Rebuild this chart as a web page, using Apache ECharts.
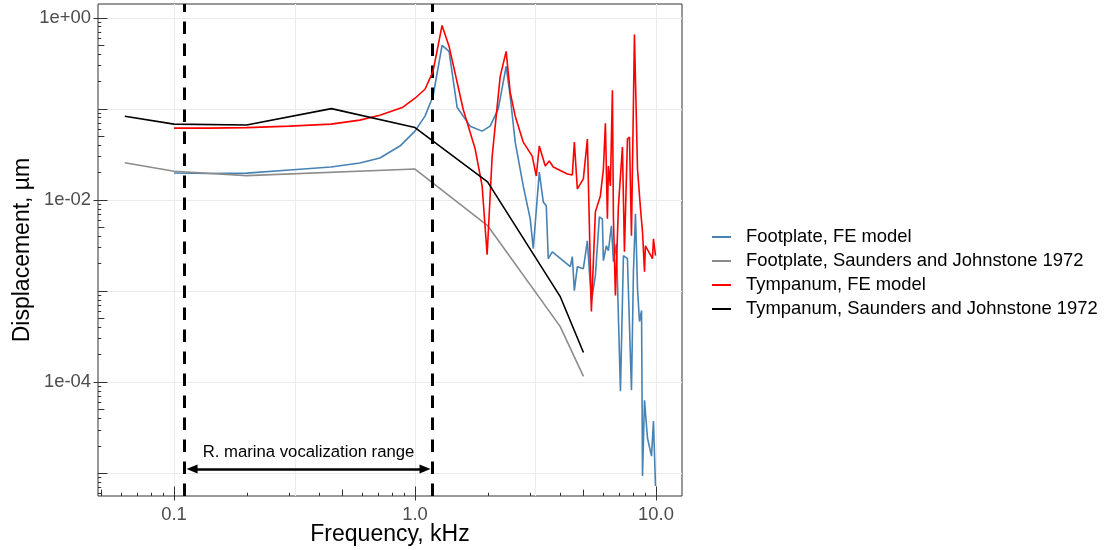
<!DOCTYPE html>
<html>
<head>
<meta charset="utf-8">
<script src="https://cdn.jsdelivr.net/npm/echarts@6/dist/echarts.min.js"></script>
<style>
html,body{margin:0;padding:0;background:#fff;}
#chart{width:1112px;height:550px;}
</style>
</head>
<body>
<div id="chart"></div>
<script>
// ---------------- data (frequency in kHz, displacement in µm) ----------------
const footplateFE_freq = [0.1,0.1405,0.2,0.302,0.448,0.59,0.715,0.866,1.0,1.10,1.188,1.295,1.385,1.495,1.693,1.899,2.05,2.214,2.389,2.483,2.605,2.812,3.007,3.095,3.279,3.406,3.505,3.573,3.713,4.41,4.496,4.583,4.717,4.995,5.191,5.393,5.603,5.821,5.99,6.049,6.225,6.346,6.531,6.658,6.85,7.12,7.326,7.467,7.612,7.91,8.062,8.22,8.38,8.54,8.71,8.79,8.96,9.22,9.58,9.76,9.95];
const footplateFE_disp = [0.01964,0.0194,0.0196,0.0212,0.02285,0.0253,0.0287,0.0388,0.0566,0.0826,0.1367,0.494,0.4246,0.1036,0.0642,0.0566,0.0642,0.0985,0.291,0.1367,0.0429,0.01416,0.00617,0.0029,0.0201,0.00946,0.00856,0.00225,0.00268,0.00184,0.00237,0.001005,0.00184,0.00175,0.00354,0.000762,0.001466,0.00648,0.00617,0.00214,0.00312,0.00275,0.00517,0.00209,0.00328,0.0000789,0.00243,0.00255,0.00225,0.0000809,0.001663,0.007,0.001057,0.00046,0.000607,0.00000927,0.0000629,0.0000241,0.0000153,0.0000371,0.0000072];

const footplateSJ_freq = [0.0625,0.1,0.2,1.0,2.0,4.0,5.0];
const footplateSJ_disp = [0.0255,0.0205,0.0184,0.0217,0.0052,0.000407,0.000115];

const tympanumFE_freq = [0.1,0.1405,0.2,0.302,0.448,0.59,0.715,0.891,1.0,1.10,1.188,1.295,1.385,1.584,1.777,1.899,1.992,2.09,2.257,2.389,2.483,2.605,2.812,3.065,3.185,3.279,3.471,3.607,3.748,4.286,4.496,4.583,4.717,4.995,5.191,5.393,5.603,5.877,6.049,6.166,6.285,6.346,6.469,6.594,6.658,6.786,6.984,7.256,7.396,7.612,7.76,7.91,8.138,8.38,8.624,8.79,8.96,9.04,9.67,9.76,9.95];
const tympanumFE_disp = [0.0610,0.0610,0.0618,0.0642,0.0675,0.0747,0.0847,0.1036,0.130,0.163,0.2565,0.818,0.4817,0.0985,0.036,0.01416,0.00249,0.0301,0.226,0.4246,0.151,0.0826,0.0429,0.0301,0.0182,0.0388,0.02344,0.02658,0.02285,0.01915,0.0187,0.0429,0.01312,0.0169,0.04626,0.000592,0.00735,0.011,0.0217,0.0692,0.00617,0.02344,0.01416,0.159,0.00617,0.000886,0.00856,0.0378,0.00268,0.04626,0.0487,0.00402,0.652,0.0217,0.00793,0.00444,0.00162,0.00312,0.00225,0.00372,0.00243];

const tympanumSJ_freq = [0.0625,0.1,0.2,0.45,1.0,2.0,4.0,5.0];
const tympanumSJ_disp = [0.0826,0.0675,0.066,0.1,0.062,0.0157,0.00087,0.00021];

const seriesNames = ['Footplate, FE model','Footplate, Saunders and Johnstone 1972','Tympanum, FE model','Tympanum, Saunders and Johnstone 1972'];
const seriesColors = ['#4682B4','#8c8c8c','#FF0000','#000000'];

// vocalization range markers
const vocalRange = [0.11, 1.18];
const arrowEnds = [0.1188, 1.1002];
const arrowLevel = 1.107e-5;
const annotationText = 'R. marina vocalization range';

// axes: breaks, minor breaks, log ticks
const X_MIN = 0.04837, X_MAX = 12.82;
const Y_MIN = 5.59e-6, Y_MAX = 1.407;
const xBreaks = [0.1, 1, 10];
const xMinorBreaks = [0.3162, 3.162];
const yBreaks = [1e-4, 1e-2, 1];
const yMinorBreaks = [1e-5, 1e-3, 1e-1];
const xLogTicks = [0.05,0.06,0.07,0.08,0.09,0.1,0.2,0.3,0.4,0.5,0.6,0.7,0.8,0.9,1,2,3,4,5,6,7,8,9,10];
const yLogTicks = [6e-6,7e-6,8e-6,9e-6,
  1e-5,2e-5,3e-5,4e-5,5e-5,6e-5,7e-5,8e-5,9e-5,
  1e-4,2e-4,3e-4,4e-4,5e-4,6e-4,7e-4,8e-4,9e-4,
  1e-3,2e-3,3e-3,4e-3,5e-3,6e-3,7e-3,8e-3,9e-3,
  1e-2,2e-2,3e-2,4e-2,5e-2,6e-2,7e-2,8e-2,9e-2,
  0.1,0.2,0.3,0.4,0.5,0.6,0.7,0.8,0.9,1];

// ---------------- helpers ----------------
const FONT = 'Liberation Sans, Arial, Helvetica, sans-serif';
function zip(a, b) { return a.map((v, i) => [v, b[i]]); }
function mant(v) { const e = Math.floor(Math.log10(v) + 1e-9); return Math.round(v / Math.pow(10, e)); }
function isIn(list, v) { return list.some(b => Math.abs(Math.log10(b) - Math.log10(v)) < 1e-6); }
function expOf(v) { const l = Math.log10(v); const e = Math.round(l); return Math.abs(l - e) < 1e-6 ? e : null; }

const TICK_COLOR = '#333333';
const LEN = {1: 9.5, 5: 6.4};
function tickLen(v) { const m = mant(v); return LEN[m] || 3.2; }

const chart = echarts.init(document.getElementById('chart'), null, {renderer: 'canvas'});

const dataSeries = [
  zip(footplateFE_freq, footplateFE_disp),
  zip(footplateSJ_freq, footplateSJ_disp),
  zip(tympanumFE_freq, tympanumFE_disp),
  zip(tympanumSJ_freq, tympanumSJ_disp)
].map((d, i) => ({
  type: 'line', name: seriesNames[i], data: d, symbol: 'none', z: 3 + i,
  lineStyle: {width: 1.6, color: seriesColors[i]}, itemStyle: {color: seriesColors[i]},
  emphasis: {disabled: true}, silent: true
}));

const option = {
  animation: false,
  backgroundColor: '#ffffff',
  textStyle: {fontFamily: FONT},
  grid: {left: 98, top: 4, width: 584, height: 492, show: true, borderColor: '#333333', borderWidth: 1, backgroundColor: 'transparent', containLabel: false, outerBoundsMode: 'none'},
  legend: {
    orient: 'vertical', left: 712, top: 228, padding: 0, itemWidth: 19, itemHeight: 2, itemGap: 6,
    icon: 'rect', data: seriesNames, selectedMode: false,
    textStyle: {fontSize: 18.4, color: '#000', fontFamily: FONT, padding: [0, 0, 0, 10]}
  },
  xAxis: {
    type: 'log', logBase: 10, min: X_MIN, max: X_MAX,
    axisLine: {show: false}, axisTick: {show: false}, splitLine: {show: false},
    axisLabel: {
      color: '#4d4d4d', fontSize: 18.4, fontFamily: FONT, margin: 10,
      formatter: v => { const e = expOf(v); return (e !== null && isIn(xBreaks, v)) ? Math.pow(10, e).toFixed(1) : ''; }
    },
    name: 'Frequency, kHz', nameLocation: 'middle', nameGap: 27, nameMoveOverlap: false,
    nameTextStyle: {fontSize: 23, color: '#000', fontFamily: FONT}
  },
  yAxis: {
    type: 'log', logBase: 10, min: Y_MIN, max: Y_MAX,
    axisLine: {show: false}, axisTick: {show: false}, splitLine: {show: false},
    axisLabel: {
      color: '#4d4d4d', fontSize: 18.4, fontFamily: FONT, margin: 7,
      formatter: v => {
        const e = expOf(v);
        if (e === null || !isIn(yBreaks, v)) return '';
        const a = Math.abs(e);
        return '1e' + (e >= 0 ? '+' : '-') + (a < 10 ? '0' : '') + a;
      }
    },
    name: 'Displacement, µm', nameLocation: 'middle', nameGap: 64, nameRotate: 90, nameMoveOverlap: false,
    nameTextStyle: {fontSize: 23, color: '#000', fontFamily: FONT}
  },
  series: [
    {
      type: 'custom', name: '_gridx', silent: true, z: 1,
      data: xBreaks.concat(xMinorBreaks).map(f => [f, Y_MIN]),
      renderItem: (params, api) => {
        const p = api.coord([api.value(0), api.value(1)]);
        const cs = params.coordSys;
        const x = Math.round(p[0]) + 0.5;
        return {type: 'line', shape: {x1: x, y1: cs.y, x2: x, y2: cs.y + cs.height}, style: {stroke: '#ebebeb', lineWidth: 1}};
      }
    },
    {
      type: 'custom', name: '_gridy', silent: true, z: 1,
      data: yBreaks.concat(yMinorBreaks).map(v => [X_MIN, v]),
      renderItem: (params, api) => {
        const p = api.coord([api.value(0), api.value(1)]);
        const cs = params.coordSys;
        const y = Math.round(p[1]) + 0.5;
        return {type: 'line', shape: {x1: cs.x, y1: y, x2: cs.x + cs.width, y2: y}, style: {stroke: '#ebebeb', lineWidth: 1}};
      }
    },
    {
      type: 'custom', name: '_ticksx', silent: true, z: 10, clip: false,
      data: xLogTicks.map(f => [f, Y_MIN]),
      renderItem: (params, api) => {
        const f = api.value(0);
        const p = api.coord([f, api.value(1)]);
        const x = Math.round(p[0]) + 0.5;
        const len = tickLen(f);
        const ch = [{type: 'line', shape: {x1: x, y1: p[1], x2: x, y2: p[1] - len}, style: {stroke: TICK_COLOR, lineWidth: 1}}];
        if (isIn(xBreaks, f)) ch.push({type: 'line', shape: {x1: x, y1: p[1], x2: x, y2: p[1] + 4.5}, style: {stroke: TICK_COLOR, lineWidth: 1}});
        return {type: 'group', children: ch};
      }
    },
    {
      type: 'custom', name: '_ticksy', silent: true, z: 10, clip: false,
      data: yLogTicks.map(v => [X_MIN, v]),
      renderItem: (params, api) => {
        const v = api.value(1);
        const p = api.coord([api.value(0), v]);
        const y = Math.round(p[1]) + 0.5;
        const len = tickLen(v);
        const ch = [{type: 'line', shape: {x1: p[0], y1: y, x2: p[0] + len, y2: y}, style: {stroke: TICK_COLOR, lineWidth: 1}}];
        if (isIn(yBreaks, v)) ch.push({type: 'line', shape: {x1: p[0], y1: y, x2: p[0] - 4.5, y2: y}, style: {stroke: TICK_COLOR, lineWidth: 1}});
        return {type: 'group', children: ch};
      }
    }
  ].concat(dataSeries).concat([
    {
      type: 'line', name: '_dash', data: [], silent: true, z: 8,
      markLine: {
        silent: true, animation: false, symbol: 'none',
        label: {show: false},
        lineStyle: {color: '#000', width: 3, type: [12.5, 9.5]},
        emphasis: {disabled: true},
        data: vocalRange.map(f => ({xAxis: f}))
      }
    },
    {
      type: 'line', name: '_arrow', data: [], silent: true, z: 8,
      markLine: {
        silent: true, animation: false, symbol: ['triangle', 'triangle'], symbolSize: [9, 11],
        lineStyle: {color: '#000', width: 2.6, type: 'solid'},
        emphasis: {disabled: true},
        label: {show: true, position: 'insideMiddleTop', distance: 8, formatter: annotationText, color: '#000', fontSize: 16.7, fontFamily: FONT},
        data: [[{coord: [arrowEnds[0], arrowLevel]}, {coord: [arrowEnds[1], arrowLevel]}]]
      }
    }
  ])
};

chart.setOption(option);
</script>
</body>
</html>
